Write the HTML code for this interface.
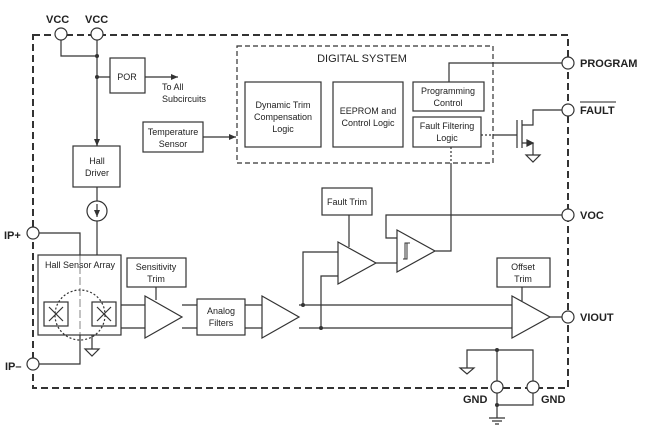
<!DOCTYPE html><html><head><style>body{margin:0;background:#fff}svg{display:block}text{font-family:"Liberation Sans",sans-serif;fill:#222}</style></head><body>
<svg width="650" height="432" viewBox="0 0 650 432" xmlns="http://www.w3.org/2000/svg">
<defs><marker id="a" markerWidth="8" markerHeight="8" refX="7" refY="4" orient="auto" markerUnits="userSpaceOnUse"><path d="M0,1 L7,4 L0,7z" fill="#333"/></marker></defs>
<g stroke="#333" stroke-width="1.2" fill="none">
<rect x="33" y="35" width="535" height="353" stroke-width="2" stroke-dasharray="7,4"/>
<rect x="237" y="46" width="256" height="117" stroke-dasharray="5,3"/>
<path d="M61,40 V56 H97 M97,40 V146" />
<path d="M97,77 H110 M145,77 H178" marker-end="url(#a)"/>
<path d="M97,130 V146" marker-end="url(#a)"/>
<rect x="110" y="58" width="35" height="35"/>
<rect x="73" y="146" width="47" height="41"/>
<path d="M97,187 V201"/>
<circle cx="97" cy="211" r="10"/>
<path d="M97,204 V217" marker-end="url(#a)"/>
<path d="M97,221 V255"/>
<rect x="143" y="122" width="60" height="30"/>
<path d="M203,137 H236" marker-end="url(#a)"/>
<rect x="245" y="82" width="76" height="65"/><rect x="333" y="82" width="70" height="65"/>
<rect x="413" y="82" width="71" height="29"/><rect x="413" y="117" width="68" height="30"/>
<path d="M39,233 H80 V255 M80,335 V364 H39"/>
<path d="M80,255 V335" stroke="#999" stroke-dasharray="8,3"/>
<rect x="38" y="255" width="83" height="80"/>
<rect x="44" y="302" width="24" height="24"/><rect x="92" y="302" width="24" height="24"/>
<path d="M49,307 L63,321 M63,307 L49,321 M97,307 L111,321 M111,307 L97,321"/>
<circle cx="80" cy="315" r="25" stroke-dasharray="2,2"/>
<path d="M92,335 V349 M85,349 H99 L92,356z"/>
<path d="M121,305 H145 M121,328 H145 M182,305 H197 M182,328 H197 M245,305 H262 M245,328 H262 M299,305 H512 M299,328 H512"/>
<path d="M145,296 L182,317 L145,338z M262,296 L299,317 L262,338z M512,296 L550,317 L512,338z"/>
<rect x="127" y="258" width="59" height="29"/><path d="M156,287 V300"/>
<rect x="197" y="299" width="48" height="36"/>
<rect x="497" y="258" width="53" height="29"/><path d="M522,287 V301 M550,317 H562"/>
<path d="M303,305 V252 H338 M321,328 V276 H338"/>
<path d="M338,242 L376,263 L338,284z"/>
<rect x="322" y="188" width="50" height="27"/><path d="M349,215 V247"/>
<path d="M376,263 H397 M397,230 L435,251 L397,272z M435,251 H451 V165"/>
<path d="M403,259 H407 V243 H410 M405,259 V243 H410" stroke-width="1"/>
<path d="M451,165 V147 M481,135 H493" stroke-dasharray="2,2"/>
<path d="M562,215 H386 V238 H397"/>
<path d="M449,82 V63 H562"/>
<path d="M493,135 H517 M517,120 V148 M522,120 V148 M522,125 H533 V110 H562 M522,143 H533 V155 M526,155 H540 L533,162z"/>
<path d="M533,143 l-6,-3 v6z" fill="#333"/>
<path d="M467,368 V350 H533 V381 M497,350 V381 M497,393 V418 M497,405 H533 V393 M460,368 H474 L467,374z M489,418 H505 M492,421 H502 M495,424 H499"/>
<circle cx="61" cy="34" r="6" fill="#fff"/><circle cx="97" cy="34" r="6" fill="#fff"/>
<circle cx="33" cy="233" r="6" fill="#fff"/><circle cx="33" cy="364" r="6" fill="#fff"/>
<circle cx="568" cy="63" r="6" fill="#fff"/><circle cx="568" cy="110" r="6" fill="#fff"/>
<circle cx="568" cy="215" r="6" fill="#fff"/><circle cx="568" cy="317" r="6" fill="#fff"/>
<circle cx="497" cy="387" r="6" fill="#fff"/><circle cx="533" cy="387" r="6" fill="#fff"/>
</g>
<g fill="#333"><circle cx="97" cy="56" r="2"/><circle cx="97" cy="77" r="2"/><circle cx="303" cy="305" r="2"/><circle cx="321" cy="328" r="2"/><circle cx="497" cy="350" r="2"/><circle cx="497" cy="405" r="2"/></g>
<g font-size="11" font-weight="bold">
<text x="46" y="23">VCC</text><text x="85" y="23">VCC</text>
<text x="4" y="239">IP+</text><text x="5" y="370">IP–</text>
<text x="580" y="67">PROGRAM</text><text x="580" y="114">FAULT</text>
<text x="580" y="219">VOC</text><text x="580" y="321">VIOUT</text>
<text x="463" y="403">GND</text><text x="541" y="403">GND</text></g>
<path d="M580,102 H616" stroke="#222" stroke-width="1"/>
<g font-size="9" text-anchor="middle">
<text x="127" y="80">POR</text>
<text x="162" y="90" text-anchor="start">To All</text><text x="162" y="102" text-anchor="start">Subcircuits</text>
<text x="97" y="164">Hall</text><text x="97" y="176">Driver</text>
<text x="173" y="135">Temperature</text><text x="173" y="147">Sensor</text>
<text x="362" y="62" font-size="11">DIGITAL SYSTEM</text>
<text x="283" y="108">Dynamic Trim</text><text x="283" y="120">Compensation</text><text x="283" y="132">Logic</text>
<text x="368" y="114">EEPROM and</text><text x="368" y="126">Control Logic</text>
<text x="448" y="94">Programming</text><text x="448" y="106">Control</text>
<text x="447" y="129">Fault Filtering</text><text x="447" y="141">Logic</text>
<text x="80" y="268">Hall Sensor Array</text>
<text x="156" y="270">Sensitivity</text><text x="156" y="282">Trim</text>
<text x="221" y="314">Analog</text><text x="221" y="326">Filters</text>
<text x="347" y="205">Fault Trim</text>
<text x="523" y="270">Offset</text><text x="523" y="282">Trim</text>
</g>
</svg></body></html>
